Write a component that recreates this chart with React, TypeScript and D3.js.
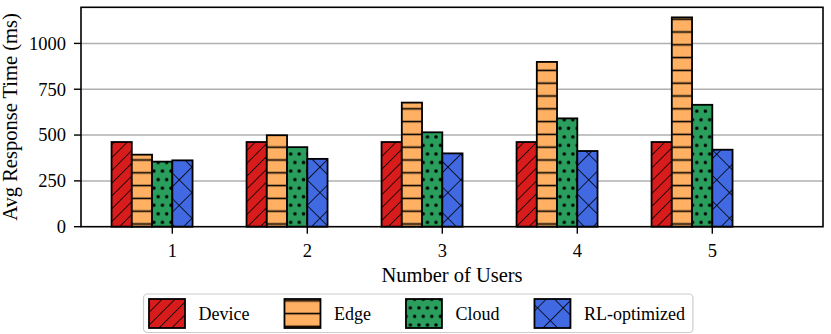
import React from "react";
import * as d3 from "d3";

// chart values
const categories = [1, 2, 3, 4, 5];
const seriesNames = ["Device", "Edge", "Cloud", "RL-optimized"];
const device = [462, 462, 462, 462, 462];
const edge = [393, 499, 677, 899, 1142];
const cloud = [355, 434, 515, 591, 665];
const rlOptimized = [362, 370, 400, 413, 420];
const yTicks = [0, 250, 500, 750, 1000];

const seriesValues = [device, edge, cloud, rlOptimized];
const seriesColors = ["#d81c1c", "#ffb062", "#2a9e5c", "#4169e1"];
const patternIds = ["hatch-device", "hatch-edge", "hatch-cloud", "hatch-rl"];

const FONT = "Liberation Serif, DejaVu Serif, serif";

const width = 831;
const height = 334;
const margin = { top: 7.3, right: 8, bottom: 107.3, left: 81 };
const plotRight = width - margin.right;
const plotBottom = height - margin.bottom;

const barWidth = 0.15;
const barOffsets = [-0.45, -0.3, -0.15, 0];
const hatchW = 1.6;

function measure(text: string, size: number): number {
    const ctx = document.createElement("canvas").getContext("2d");
    if (!ctx) return text.length * size * 0.5;
    ctx.font = `${size}px ${FONT}`;
    return ctx.measureText(text).width;
}

function Patterns() {
    return (
        <defs>
            <pattern id={patternIds[0]} patternUnits="userSpaceOnUse" width={9.05} height={10}
                     patternTransform="rotate(45)">
                <rect width={9.05} height={10} fill={seriesColors[0]}/>
                <line x1={0} y1={-1} x2={0} y2={11} stroke="#000" strokeWidth={hatchW}/>
            </pattern>
            <pattern id={patternIds[1]} patternUnits="userSpaceOnUse" width={10} height={12.8}>
                <rect width={10} height={12.8} fill={seriesColors[1]}/>
                <line x1={-1} y1={6.4} x2={11} y2={6.4} stroke="#000" strokeWidth={hatchW}/>
            </pattern>
            <pattern id={patternIds[2]} patternUnits="userSpaceOnUse" width={8.55} height={17.1}>
                <rect width={8.55} height={17.1} fill={seriesColors[2]}/>
                {[[0, 0], [8.55, 0], [0, 17.1], [8.55, 17.1], [4.275, 8.55]].map(([cx, cy], i) =>
                    <circle key={i} cx={cx} cy={cy} r={1.75} fill="#000"/>
                )}
            </pattern>
            <pattern id={patternIds[3]} patternUnits="userSpaceOnUse" width={18.1} height={18.1}
                     patternTransform="rotate(45)">
                <rect width={18.1} height={18.1} fill={seriesColors[3]}/>
                <line x1={0} y1={-1} x2={0} y2={19.1} stroke="#000" strokeWidth={hatchW}/>
                <line x1={-1} y1={0} x2={19.1} y2={0} stroke="#000" strokeWidth={hatchW}/>
            </pattern>
        </defs>
    );
}

export default function App() {
    const x = d3.scaleLinear()
        .domain([0.3237, 5.82])
        .range([margin.left, plotRight]);

    const y = d3.scaleLinear()
        .domain([0, 1197])
        .range([plotBottom, margin.top]);

    const txt = { fontFamily: FONT, fill: "#000" };

    // legend layout
    const legendFont = 18;
    const handleW = 36;
    const handleH = 29;
    const textGap = 13.5;
    const colGap = 35;
    const textWidths = seriesNames.map(n => measure(n, legendFont));
    const itemWidths = textWidths.map(w => handleW + textGap + w);
    const legendInner = d3.sum(itemWidths) + colGap * (seriesNames.length - 1);
    const legendX = 143.5;
    const legendW = legendInner + 5.5 + 8;
    const legendY = 294;
    const legendH = 38.5;
    let cursor = legendX + 5.5;
    const legendItems = seriesNames.map((name, i) => {
        const item = { name, i, x: cursor };
        cursor += itemWidths[i] + colGap;
        return item;
    });

    return (
        <svg width={width} height={height} style={{ position: "absolute", left: 0, top: 0 }}>
            <Patterns/>
            <rect width={width} height={height} fill="#fff"/>

            {/* grid */}
            {yTicks.filter(t => t > 0).map(t =>
                <line key={"g" + t} x1={margin.left} x2={plotRight} y1={y(t)} y2={y(t)}
                      stroke="#b0b0b0" strokeWidth={1.5}/>
            )}

            {/* bars */}
            {seriesValues.map((vals, s) =>
                <g key={seriesNames[s]}>
                    {categories.map((c, i) =>
                        <rect key={c}
                              x={x(c + barOffsets[s])}
                              y={y(vals[i])}
                              width={x(c + barOffsets[s] + barWidth) - x(c + barOffsets[s])}
                              height={y(0) - y(vals[i])}
                              fill={`url(#${patternIds[s]})`}
                              stroke="#000" strokeWidth={1.8}/>
                    )}
                </g>
            )}

            {/* frame */}
            <rect x={margin.left} y={margin.top} width={plotRight - margin.left}
                  height={plotBottom - margin.top} fill="none" stroke="#000" strokeWidth={1.6}/>

            {/* y axis */}
            {yTicks.map(t =>
                <g key={"y" + t}>
                    <line x1={margin.left - 7} x2={margin.left} y1={y(t)} y2={y(t)}
                          stroke="#000" strokeWidth={1.4}/>
                    <text x={margin.left - 15} y={y(t)} dy="0.34em" textAnchor="end"
                          fontSize={18.5} style={txt}>{t}</text>
                </g>
            )}
            <text transform={`translate(17,${(margin.top + plotBottom) / 2}) rotate(-90)`}
                  textAnchor="middle" fontSize={20.5} style={txt}>Avg Response Time (ms)</text>

            {/* x axis */}
            {categories.map(c =>
                <g key={"x" + c}>
                    <line x1={x(c)} x2={x(c)} y1={plotBottom} y2={plotBottom + 7}
                          stroke="#000" strokeWidth={1.4}/>
                    <text x={x(c)} y={257} textAnchor="middle" fontSize={18.5} style={txt}>{c}</text>
                </g>
            )}
            <text x={(margin.left + plotRight) / 2} y={281.5} textAnchor="middle"
                  fontSize={20.5} style={txt}>Number of Users</text>

            {/* legend */}
            <rect x={legendX} y={legendY} width={legendW} height={legendH} rx={4}
                  fill="#fff" fillOpacity={0.8} stroke="#cccccc" strokeWidth={1.2}/>
            {legendItems.map(item =>
                <g key={item.name}>
                    <rect x={item.x} y={legendY + 5} width={handleW} height={handleH}
                          fill={`url(#${patternIds[item.i]})`} stroke="#000" strokeWidth={1.8}/>
                    <text x={item.x + handleW + textGap} y={legendY + 20} dy="0.34em"
                          fontSize={legendFont} style={txt}>{item.name}</text>
                </g>
            )}
        </svg>
    );
}
